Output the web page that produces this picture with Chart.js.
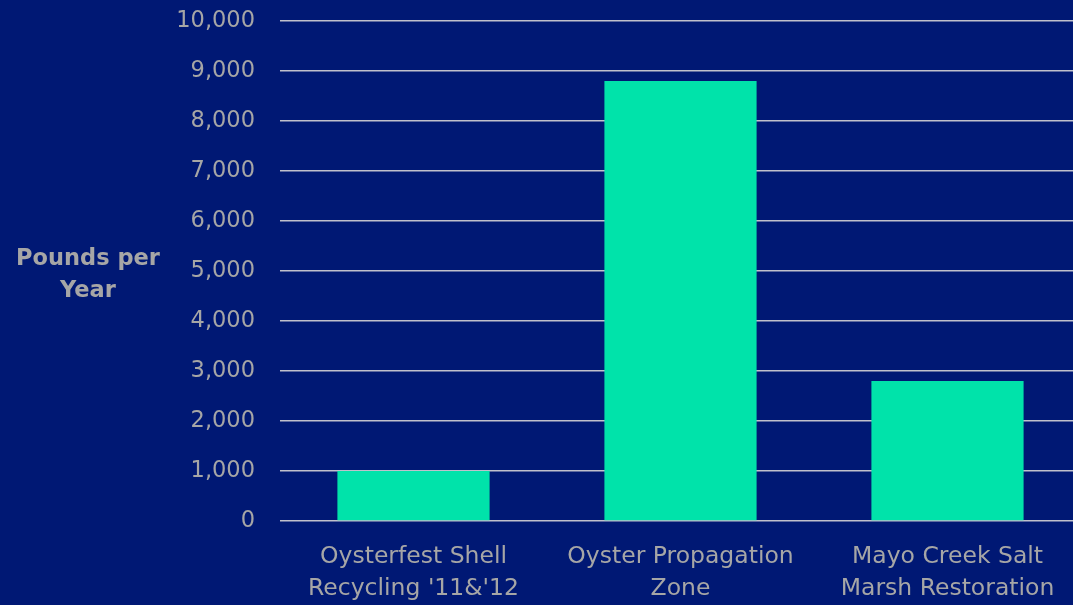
<!DOCTYPE html>
<html>
<head>
<meta charset="utf-8">
<script src="https://cdn.jsdelivr.net/npm/chart.js@4"></script>
<style>
  html, body { margin: 0; padding: 0; background: #001874; overflow: hidden; }
  #wrap { position: relative; width: 1081px; height: 605px; }
  #yTitle {
    position: absolute; left: 0; top: 241px; width: 176px;
    text-align: center; color: #a6a6a6;
    font: bold 22.5px "DejaVu Sans", sans-serif;
    line-height: 32px;
  }
</style>
</head>
<body>
<div id="wrap">
  <canvas id="chart" width="1081" height="605"></canvas>
  <div id="yTitle">Pounds per<br>Year</div>
</div>
<script>
const categories = [
  ["Oysterfest Shell", "Recycling '11&'12"],
  ["Oyster Propagation", "Zone"],
  ["Mayo Creek Salt", "Marsh Restoration"]
];
const poundsPerYear = [1000, 8800, 2800];
const yTicks = [0, 1000, 2000, 3000, 4000, 5000, 6000, 7000, 8000, 9000, 10000];

const textColor = "#a6a6a6";
const fontFamily = "'DejaVu Sans', sans-serif";

new Chart(document.getElementById("chart").getContext("2d"), {
  type: "bar",
  data: {
    labels: categories,
    datasets: [{
      label: "Pounds per Year",
      data: poundsPerYear,
      backgroundColor: "#00e3aa",
      categoryPercentage: 1,
      barPercentage: 0.57
    }]
  },
  options: {
    responsive: false,
    animation: false,
    layout: { padding: { top: 21, left: 0, right: 0, bottom: 0 } },
    plugins: {
      legend: { display: false },
      tooltip: { enabled: false }
    },
    scales: {
      x: {
        grid: { display: false },
        border: { display: false },
        ticks: {
          color: textColor,
          font: { family: fontFamily, size: 23.5, lineHeight: 1.36 },
          padding: 12,
          maxRotation: 0
        },
        afterFit: (scale) => {
          scale.height = 84;
          scale.paddingLeft = 0;
          scale.paddingRight = 0;
        }
      },
      y: {
        min: 0,
        max: 10000,
        afterBuildTicks: (scale) => {
          scale.ticks = yTicks.map(v => ({ value: v }));
        },
        grid: { color: "#c0c0cc", lineWidth: 1.5, drawTicks: false },
        border: { display: false },
        ticks: {
          color: textColor,
          font: { family: fontFamily, size: 22.5 },
          padding: 25,
          callback: (v) => v.toLocaleString("en-US")
        },
        afterFit: (scale) => {
          scale.width = 280;
          scale.paddingTop = 0;
          scale.paddingBottom = 0;
        }
      }
    }
  }
});
</script>
</body>
</html>
